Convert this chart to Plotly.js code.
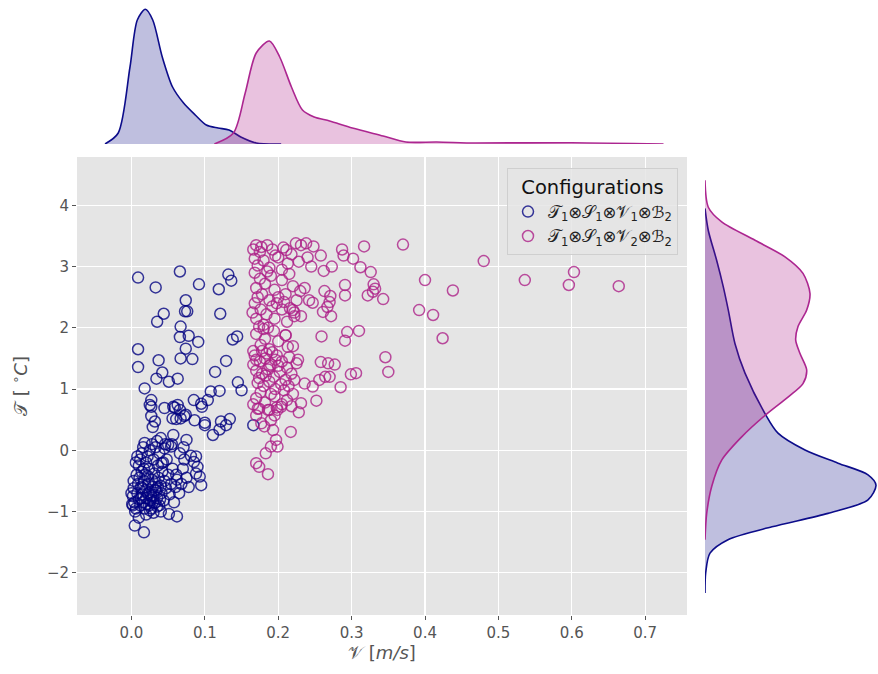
<!DOCTYPE html>
<html>
<head>
<meta charset="utf-8">
<script src="https://cdn.plot.ly/plotly-3.0.1.min.js"></script>
<style>html,body{margin:0;padding:0;background:#fff;}#chart{width:878px;height:674px;}</style>
</head>
<body>
<div id="chart"></div>
<script>
// ---------- data ----------
const seriesNames = ["𝒯<sub>1</sub>⊗𝒮<sub>1</sub>⊗𝒱<sub>1</sub>⊗ℬ<sub>2</sub>", "𝒯<sub>1</sub>⊗𝒮<sub>1</sub>⊗𝒱<sub>2</sub>⊗ℬ<sub>2</sub>"];

const blueV = [0.009,0.033,0.066,0.092,0.119,0.132,0.136,0.074,0.073,0.076,0.044,0.035,0.121,0.067,0.066,0.078,0.091,0.074,0.009,0.009,0.037,0.067,0.083,0.138,0.144,0.129,0.114,0.042,0.034,0.051,0.063,0.018,0.145,0.150,0.120,0.108,0.085,0.095,0.096,0.104,0.027,0.025,0.027,0.045,0.057,0.063,0.066,0.061,0.067,0.027,0.074,0.086,0.100,0.122,0.134,0.032,
0.111,0.120,0.129,0.166,0.059,0.056,0.072,0.100,0.075,0.057,0.029,0.050,0.045,0.054,0.081,0.088,0.085,0.090,0.088,0.093,0.041,0.061,0.095,0.0045,0.017,0.051,0.062,
0.002,0.004,0.006,0.003,0.008,0.010,0.012,0.005,0.009,0.011,0.013,0.015,0.016,0.018,0.014,0.017,0.019,0.020,0.021,0.022,0.023,0.024,0.025,0.026,0.027,0.028,0.029,0.030,0.031,0.032,0.033,0.034,0.035,0.036,0.037,0.038,0.040,0.041,0.042,0.044,0.045,0.047,0.048,0.050,0.052,0.054,0.056,0.058,0.060,0.062,0.001,0.003,0.007,0.010,0.012,0.014,0.016,0.018,0.020,0.022,0.025,0.028,0.030,0.033,0.035,0.038,0.040,0.043,0.046,0.020,0.025,0.030,0.035,0.010,0.040,0.015,0.019,0.024,0.027,0.032,0.006,0.008,0.000,0.002,0.013,0.023,0.029,0.017,0.036,0.039,0.065,0.068,0.070,0.072,0.075,0.078,0.066,0.071,0.055];
const blueT = [2.82,2.66,2.92,2.71,2.63,2.87,2.77,2.45,2.27,2.27,2.23,2.10,2.23,2.02,1.85,1.87,1.77,1.66,1.65,1.36,1.47,1.50,1.49,1.81,1.86,1.46,1.28,1.27,1.17,1.12,1.17,1.01,1.11,0.98,0.97,0.96,0.82,0.76,0.71,0.82,0.82,0.74,0.71,0.69,0.71,0.74,0.66,0.51,0.52,0.56,0.58,0.49,0.45,0.47,0.51,0.47,
0.25,0.34,0.41,0.41,0.70,0.52,0.56,0.41,0.17,0.25,0.38,0.09,0.03,0.06,-0.09,-0.10,-0.19,-0.27,-0.38,-0.43,-0.21,-0.40,-0.57,-1.23,-1.34,-1.04,-1.08,
-0.75,-0.85,-0.95,-0.62,-0.70,-0.80,-0.90,-1.00,-0.55,-0.45,-0.60,-0.72,-0.85,-0.95,-0.35,-0.50,-0.65,-0.78,-0.88,-0.42,-0.55,-0.30,-0.68,-0.82,-0.95,-0.48,-0.60,-0.73,-0.38,-0.86,-0.52,-0.66,-0.78,-0.25,-0.45,-0.90,-0.58,-0.70,-0.35,-0.82,-0.50,-0.62,-0.15,-0.40,-0.72,-0.55,-0.30,-0.85,-0.60,-0.48,-0.88,-0.50,-0.40,-0.25,-0.15,-0.05,0.05,0.12,-0.20,-0.10,0.00,0.10,-0.15,0.05,0.15,-0.05,0.20,-0.20,0.10,-1.05,-0.98,-1.02,-0.92,-1.10,-1.00,-0.62,-0.40,-0.90,-0.75,-0.65,-0.20,-0.10,-0.70,-0.90,-0.78,-0.70,-0.85,-0.30,-0.60,-0.80,-0.70,-0.55,-0.30,-0.15,-0.45,-0.60,-0.05,0.05,0.10];

const pinkV = [0.170,0.177,0.185,0.175,0.168,0.180,0.196,0.211,0.213,0.207,0.224,0.231,0.238,0.248,
0.172,0.188,0.200,0.218,0.228,0.166,0.192,0.205,0.240,0.245,
0.168,0.175,0.182,0.190,0.170,0.178,0.195,0.205,0.210,0.220,0.185,0.200,0.172,0.188,0.215,0.230,0.225,
0.168,0.176,0.184,0.192,0.170,0.180,0.195,0.205,0.212,0.222,0.186,0.174,0.198,0.165,0.208,0.216,
0.170,0.182,0.194,0.176,0.188,0.200,0.166,0.210,0.220,0.180,
0.168,0.175,0.182,0.190,0.198,0.205,0.212,0.170,0.178,0.186,0.194,0.202,0.210,0.172,0.180,0.188,0.196,0.204,0.166,0.184,0.192,0.215,0.218,0.174,0.200,0.208,0.225,0.176,0.190,0.183,0.170,0.196,0.188,0.178,0.214,0.222,
0.170,0.182,0.195,0.205,0.174,0.188,0.212,0.166,0.198,0.220,
0.172,0.170,0.177,0.186,0.195,0.199,0.204,0.190,0.181,0.193,0.197,0.199,0.190,0.183,0.170,0.174,0.186,0.217,0.228,
0.317,0.287,0.289,0.302,0.312,0.326,0.330,0.332,0.322,0.343,0.329,0.291,0.291,0.258,0.273,0.262,0.236,0.263,0.271,0.270,0.267,0.242,0.247,0.261,0.272,0.231,0.220,0.222,0.294,0.291,0.310,0.259,0.210,0.213,0.227,0.258,0.268,0.277,0.264,0.270,0.256,0.299,0.306,0.236,0.247,0.252,0.285,0.231,0.218,
0.370,0.480,0.400,0.438,0.536,0.603,0.596,0.664,0.392,0.411,0.424,0.346,0.350];
const pinkT = [3.35,3.32,3.35,3.24,3.13,3.10,3.18,3.27,3.05,3.31,3.38,3.35,3.38,3.33,
3.02,2.98,3.15,3.20,3.08,3.28,3.28,2.95,3.15,3.00,
2.90,2.80,2.72,2.85,2.65,2.55,2.62,2.78,2.55,2.68,2.92,2.50,2.50,2.45,2.88,2.60,2.45,
2.40,2.30,2.22,2.35,2.15,2.05,2.15,2.30,2.10,2.25,2.00,2.02,2.40,2.25,2.42,2.32,
1.90,1.82,1.95,1.72,1.65,1.78,1.62,1.88,1.70,1.98,
1.55,1.45,1.50,1.40,1.55,1.45,1.35,1.30,1.25,1.32,1.20,1.28,1.15,1.10,1.05,1.12,1.00,1.08,1.40,1.58,1.60,1.52,1.25,1.18,1.38,0.98,1.42,0.95,0.92,1.22,1.48,1.48,1.38,1.62,1.05,1.15,
0.85,0.78,0.88,0.75,0.68,0.66,0.82,0.75,0.70,0.92,
0.68,0.57,0.44,0.66,0.57,0.66,0.71,0.49,0.39,0.33,0.17,0.06,0.06,-0.05,-0.21,-0.27,-0.39,0.30,0.62,
3.33,3.28,3.18,3.13,2.99,2.91,2.71,2.64,2.53,2.47,2.59,2.70,2.53,3.18,3.00,2.93,2.65,2.60,2.52,2.42,2.34,2.45,2.41,2.26,2.19,2.19,2.29,2.19,1.93,1.79,1.95,1.86,1.88,1.69,1.48,1.44,1.42,1.40,1.20,1.20,1.15,1.24,1.26,1.09,1.04,0.81,1.03,0.77,0.72,
3.36,3.09,2.78,2.61,2.78,2.91,2.70,2.68,2.29,2.21,1.83,1.52,1.28];

// marginal density (arbitrary units)
const topBlueV = [-0.036,-0.018,-0.002,0.008,0.019,0.029,0.042,0.056,0.071,0.087,0.102,0.118,0.133,0.149,0.170,0.204];
const topBlueD = [0,11,77,124,134.7,124,87,57,41,29,19,16,14,7,1,0];
const topPinkV = [0.113,0.139,0.155,0.170,0.188,0.202,0.218,0.233,0.249,0.270,0.301,0.343,0.374,0.416,0.469,0.60,0.725];
const topPinkD = [0,11,51,91,103,87,57,34,27,23,16,8,2,2,1,1.3,0];

const rightBlueT = [3.95,3.59,3.10,2.67,2.29,1.74,1.26,0.60,0.28,0.005,-0.21,-0.40,-0.57,-0.81,-1.03,-1.25,-1.46,-1.68,-2.0,-2.33];
const rightBlueD = [0,3.3,11.7,18.3,23.3,30,40,60,73,100,133,163,171,163,123,67,23,5,0.7,0];
const rightPinkT = [4.41,3.97,3.73,3.43,3.16,2.89,2.56,2.29,2.02,1.80,1.58,1.31,1.09,0.87,0.58,0.22,-0.16,-0.59,-1.03,-1.46];
const rightPinkD = [0,3.3,16.7,50,80,98,105,101.7,93,90.7,95,101.7,98,83,60.7,36.7,16.7,6.7,1.7,0];

const xTickVals = [0,0.1,0.2,0.3,0.4,0.5,0.6,0.7];
const yTickVals = [-2,-1,0,1,2,3,4];

// ---------- styles ----------
const blueLine = '#0c0c8a', pinkLine = '#ac2690';
const blueFill = 'rgba(0,0,128,0.25)', pinkFill = 'rgba(172,30,135,0.27)';
const blueMk = 'rgba(0,0,128,0.78)', pinkMk = 'rgba(172,30,135,0.78)';

const traces = [
  {type:'scatter', mode:'markers', x:blueV, y:blueT, name:seriesNames[0], xaxis:'x', yaxis:'y',
   marker:{symbol:'circle-open', size:11, color:blueMk, line:{width:1.5, color:blueMk}}},
  {type:'scatter', mode:'markers', x:pinkV, y:pinkT, name:seriesNames[1], xaxis:'x', yaxis:'y',
   marker:{symbol:'circle-open', size:11, color:pinkMk, line:{width:1.5, color:pinkMk}}},
  {type:'scatter', mode:'lines', x:topBlueV, y:topBlueD, xaxis:'x2', yaxis:'y2', fill:'tozeroy', fillcolor:blueFill,
   line:{color:blueLine, width:1.6, shape:'spline', smoothing:0.8}, showlegend:false, hoverinfo:'skip'},
  {type:'scatter', mode:'lines', x:topPinkV, y:topPinkD, xaxis:'x2', yaxis:'y2', fill:'tozeroy', fillcolor:pinkFill,
   line:{color:pinkLine, width:1.6, shape:'spline', smoothing:0.8}, showlegend:false, hoverinfo:'skip'},
  {type:'scatter', mode:'lines', x:rightBlueD, y:rightBlueT, xaxis:'x3', yaxis:'y3', fill:'tozerox', fillcolor:blueFill,
   line:{color:blueLine, width:1.6, shape:'spline', smoothing:0.8}, showlegend:false, hoverinfo:'skip'},
  {type:'scatter', mode:'lines', x:rightPinkD, y:rightPinkT, xaxis:'x3', yaxis:'y3', fill:'tozerox', fillcolor:pinkFill,
   line:{color:pinkLine, width:1.6, shape:'spline', smoothing:0.8}, showlegend:false, hoverinfo:'skip'}
];

const font = {family:'DejaVu Sans, Noto Sans, sans-serif', size:15, color:'#555'};
const hidden = {visible:false, showgrid:false, zeroline:false, showticklabels:false};
const xDom = [77/878, 687/878];
const yDom = [59/674, 517/674];

const layout = {
  width:878, height:674, margin:{l:0,r:0,t:0,b:0},
  paper_bgcolor:'#fff', plot_bgcolor:'rgba(0,0,0,0)', font:font, showlegend:true,
  xaxis:{domain:xDom, range:[-0.0742,0.757], tickvals:xTickVals, tickformat:'.1f', showgrid:true, gridcolor:'#fff', gridwidth:1.2,
         zeroline:false, ticks:'outside', ticklen:4, tickcolor:'#555', tickfont:{size:15,color:'#555'}, showline:false,
         title:{text:'𝒱 [<i>m/s</i>]', font:{size:18,color:'#555'}, standoff:4}, anchor:'y'},
  yaxis:{domain:yDom, range:[-2.69,4.79], tickvals:yTickVals, showgrid:true, gridcolor:'#fff', gridwidth:1.2,
         zeroline:false, ticks:'outside', ticklen:4, tickcolor:'#555', tickfont:{size:15,color:'#555'}, showline:false,
         title:{text:'𝒯 [ <sup>∘</sup><i>C</i>]', font:{size:18,color:'#555'}, standoff:14}, anchor:'x'},
  xaxis2:Object.assign({domain:xDom, matches:'x', anchor:'y2'}, hidden),
  yaxis2:Object.assign({domain:[530/674, 669/674], range:[0,139], anchor:'x2'}, hidden),
  xaxis3:Object.assign({domain:[705/878, 1], range:[0,173], anchor:'y3'}, hidden),
  yaxis3:Object.assign({domain:yDom, matches:'y', anchor:'x3'}, hidden),
  shapes:[{type:'rect', xref:'x domain', yref:'y domain', x0:0, x1:1, y0:0, y1:1, fillcolor:'#e5e5e5', line:{width:0}, layer:'below'}],
  legend:{x:678/878, xanchor:'right', y:(674-168)/674, yanchor:'top', bgcolor:'rgba(229,229,229,0.85)', bordercolor:'#cfcfcf', borderwidth:1,
          font:{size:16.5, color:'#222'}, title:{text:'Configurations', font:{size:19.5,color:'#111'}, side:'top center'},
          itemwidth:30}
};

Plotly.newPlot('chart', traces, layout, {displayModeBar:false, staticPlot:true});
</script>
</body>
</html>
